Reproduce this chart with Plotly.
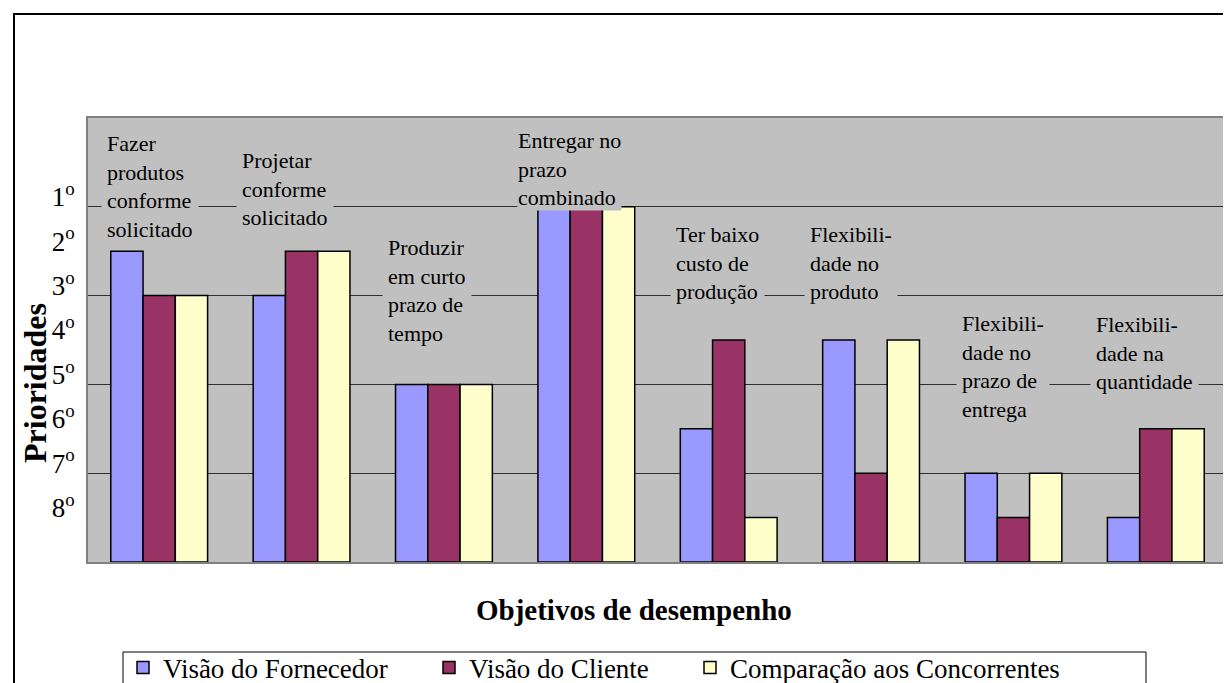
import plotly.graph_objects as go

categorias = [
    "Fazer<br>produtos<br>conforme<br>solicitado",
    "Projetar<br>conforme<br>solicitado",
    "Produzir<br>em curto<br>prazo de<br>tempo",
    "Entregar no<br>prazo<br>combinado",
    "Ter baixo<br>custo de<br>produção",
    "Flexibili-<br>dade no<br>produto",
    "Flexibili-<br>dade no<br>prazo de<br>entrega",
    "Flexibili-<br>dade na<br>quantidade",
]
# ranking (1º = highest priority)
rank_fornecedor = [2, 3, 5, 1, 6, 4, 7, 8]
rank_cliente = [3, 2, 5, 1, 4, 7, 8, 6]
rank_concorrentes = [3, 2, 5, 1, 8, 4, 7, 6]
tick_labels = ["1<sup>o</sup>", "2<sup>o</sup>", "3<sup>o</sup>", "4<sup>o</sup>",
               "5<sup>o</sup>", "6<sup>o</sup>", "7<sup>o</sup>", "8<sup>o</sup>"]
series_names = ["Visão do Fornecedor", "Visão do Cliente", "Comparação aos Concorrentes"]

n_ranks = len(tick_labels)
def to_height(ranks):
    return [n_ranks + 1 - r for r in ranks]

x_idx = list(range(len(categorias)))
FONT = "Liberation Serif"

fig = go.Figure()
colors = ["#9999FF", "#993366", "#FFFFCC"]
legend_widths = [261, 216, 350]
for name, ranks, col, lw in zip(series_names, [rank_fornecedor, rank_cliente, rank_concorrentes],
                                colors, legend_widths):
    fig.add_trace(go.Bar(
        x=x_idx, y=to_height(ranks), name=name,
        marker=dict(color=col, line=dict(color="black", width=1.5)),
        hoverinfo="skip", legendwidth=lw,
    ))

# category label positions (left x in data units, vertical centre in data units)
label_x = [-0.41, 0.54, 1.565, 2.513, 3.587, 4.528, 5.596, 6.536]
label_y = [8.45, 8.40, 6.12, 8.85, 6.73, 6.73, 4.41, 4.71]
label_pad = [5, 5, 5, 0, 5, 5, 5, 5]

annotations = []
for txt, lx, ly, pad in zip(categorias, label_x, label_y, label_pad):
    annotations.append(dict(
        x=lx, y=ly, xref="x", yref="y", text=txt, showarrow=False,
        xanchor="left", yanchor="middle", align="left",
        font=dict(family=FONT, size=22, color="black"),
        bgcolor="#C0C0C0", borderpad=pad,
    ))

annotations.append(dict(
    x=(634 - 88) / 1139, y=(562 - 610) / 444, xref="paper", yref="paper",
    text="<b>Objetivos de desempenho</b>",
    showarrow=False, xanchor="center", yanchor="middle",
    font=dict(family=FONT, size=29, color="black"),
))
annotations.append(dict(
    x=(35 - 88) / 1139, y=(562 - 383) / 444, xref="paper", yref="paper", text="<b>Prioridades</b>",
    showarrow=False, xanchor="center", yanchor="middle", textangle=-90,
    font=dict(family=FONT, size=32, color="black"),
))

shapes = [
    # outer chart border
    dict(type="rect", xref="paper", yref="paper", x0=(14 - 88) / 1139, x1=1.2,
         y0=-0.6, y1=(562 - 14) / 444, line=dict(color="black", width=2), layer="below"),
    # legend box
    dict(type="rect", xref="paper", yref="paper", x0=(123 - 88) / 1139, x1=(1146 - 88) / 1139,
         y0=(562 - 700) / 444, y1=(562 - 652) / 444, line=dict(color="black", width=1)),
]

fig.update_layout(
    width=1231, height=683,
    margin=dict(l=80, r=12, t=110, b=129, autoexpand=False),
    paper_bgcolor="white", plot_bgcolor="#C0C0C0",
    barmode="group", bargap=0.32, bargroupgap=0,
    showlegend=True,
    legend=dict(orientation="h", x=(123 - 88) / 1139, xanchor="left",
                y=(562 - 668) / 444, yanchor="middle",
                font=dict(family=FONT, size=27, color="black"), bgcolor="rgba(0,0,0,0)",
                traceorder="normal"),
    annotations=annotations, shapes=shapes,
    font=dict(family=FONT, color="black"),
)
fig.update_xaxes(range=[-0.5, 7.5], showticklabels=False, showgrid=False, zeroline=False,
                 showline=True, mirror=True, linecolor="#808080", linewidth=2, ticks="")
fig.update_yaxes(range=[0, 10], tickmode="array",
                 tickvals=to_height(list(range(1, n_ranks + 1))), ticktext=tick_labels,
                 showgrid=False, zeroline=False, showline=True, mirror=True,
                 linecolor="#808080", linewidth=2, ticks="",
                 tickfont=dict(family=FONT, size=27, color="black"),
                 ticklabelshift=-10, ticklabelstandoff=6)
# gridlines at every other rank (1º,3º,5º,7º)
fig.update_yaxes(minor=dict(tickmode="array", tickvals=[2, 4, 6, 8], showgrid=True,
                            gridcolor="#303030", gridwidth=1, ticks=""))
fig.write_html("out.html")
